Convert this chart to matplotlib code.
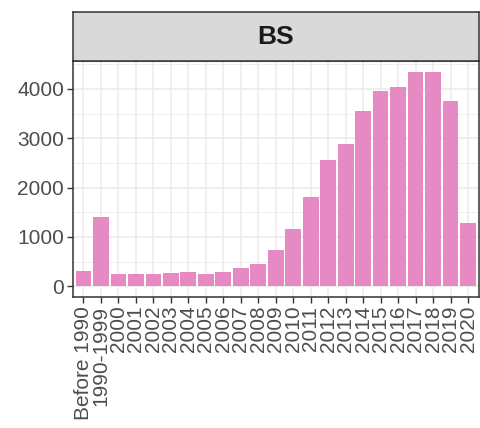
import matplotlib
matplotlib.use("Agg")
import matplotlib.pyplot as plt
from matplotlib.ticker import MultipleLocator

categories = ["Before 1990", "1990-1999"] + [str(y) for y in range(2000, 2021)]
values = [300, 1410, 250, 240, 240, 262, 295, 250, 290, 370, 450, 740, 1160,
          1800, 2555, 2890, 3560, 3965, 4045, 4350, 4350, 3765, 1280]
panel_title = "BS"
yticks = [0, 1000, 2000, 3000, 4000]

plt.rcParams['font.family'] = ['Liberation Sans', 'DejaVu Sans']

fig = plt.figure(figsize=(4.8, 4.28), dpi=100)
W, H = 480, 428
L, R, T, B = 73, 478.5, 61, 297
ax = fig.add_axes([L / W, (H - B) / H, (R - L) / W, (B - T) / H])
sax = fig.add_axes([L / W, (H - T) / H, (R - L) / W, (T - 12) / H])

x = list(range(len(categories)))
ax.bar(x, values, width=0.9, color="#E78AC3", zorder=2)
ax.set_xlim(-0.6, len(categories) - 1 + 0.6)
ymax = max(values)
ax.set_ylim(-0.05 * ymax, ymax * 1.05)

ax.set_xticks(x)
ax.set_xticklabels(categories, rotation=90, va="top", ha="center")
ax.set_yticks(yticks)
ax.yaxis.set_minor_locator(MultipleLocator(500))
ax.grid(which="major", color="#EBEBEB", lw=1.1, zorder=0)
ax.grid(which="minor", axis="y", color="#EBEBEB", lw=0.6, zorder=0)
ax.set_axisbelow(True)
ax.tick_params(axis="both", which="major", length=4.3, width=1, color="#333333",
               labelcolor="#4D4D4D", labelsize=15, pad=2)
ax.tick_params(which="minor", length=0)
for s in ax.spines.values():
    s.set_color("#333333")
    s.set_linewidth(1.1)

sax.set_facecolor("#D9D9D9")
sax.set_xticks([])
sax.set_yticks([])
for s in sax.spines.values():
    s.set_color("#333333")
    s.set_linewidth(1.1)
sax.text(0.5, 0.5, panel_title, ha="center", va="center", fontsize=19,
         fontweight="bold", color="#1A1A1A", transform=sax.transAxes)

fig.savefig("out.png", dpi=100)
